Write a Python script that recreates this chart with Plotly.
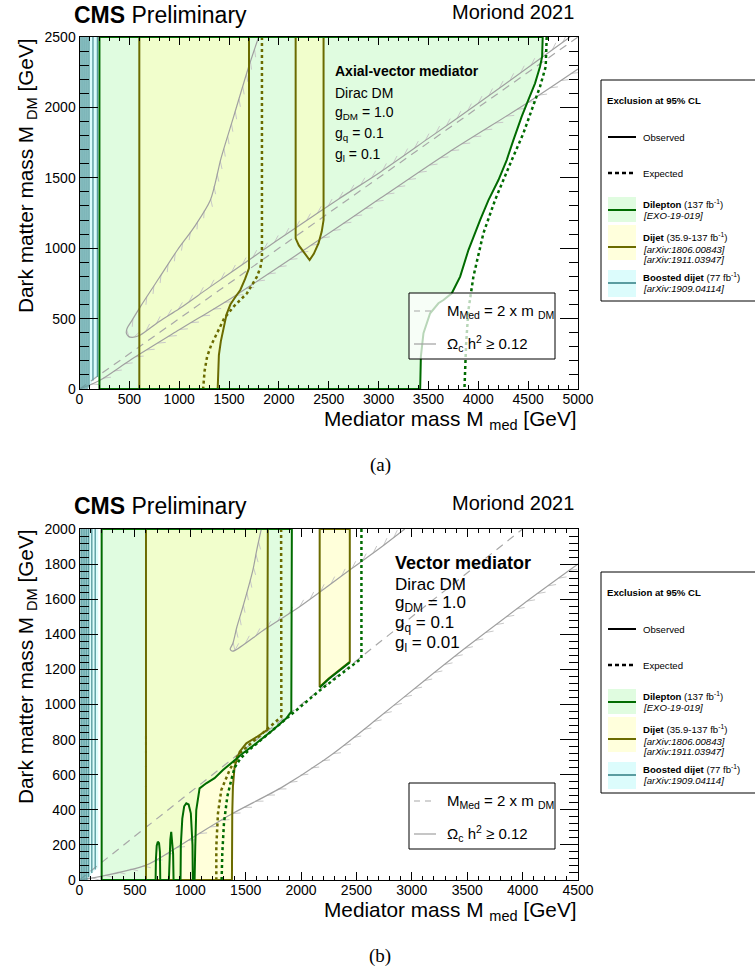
import math
import plotly.graph_objects as go

W, H = 755, 973

# ---------------- colours ----------------
C_DILEP_FILL = "#e0fce0"
C_DIJET_FILL = "rgba(255,255,188,0.55)"
C_BOOST_FILL = "#dcfcfc"
C_DILEP = "#006b00"
C_DIJET = "#6b6b00"
C_BOOST = "#5a9ca0"
C_RELIC = "#a0a0a0"
C_HATCH = "#c8c8c8"

# ================= Axial-vector mediator =================
av_dilep_obs_x = [200, 200, 4646, 4640, 4619, 4569, 4502, 4435, 4352, 4285, 4202, 4102,
                  4018, 3901, 3818, 3734, 3651, 3600, 3517, 3450, 3424, 3417, 200]
av_dilep_obs_y = [0, 2500, 2500, 2360, 2289, 2171, 2053, 1934, 1768, 1626, 1484, 1342,
                  1200, 987, 798, 680, 632, 609, 538, 396, 230, 0, 0]
av_dilep_exp_x = [4686, 4676, 4619, 4536, 4452, 4335, 4168, 4051, 3951, 3901, 3878, 3861]
av_dilep_exp_y = [2500, 2289, 2147, 1981, 1816, 1626, 1342, 1106, 798, 561, 325, 0]

av_dijet_obs1_x = [600, 600, 1700, 1700, 1660, 1613, 1560, 1513, 1475, 1446, 1418, 1398, 1389, 1386, 600]
av_dijet_obs1_y = [0, 2500, 2500, 857, 780, 703, 650, 600, 530, 443, 340, 240, 120, 0, 0]
av_dijet_obs2_x = [2168, 2168, 2200, 2240, 2308, 2350, 2398, 2430, 2448, 2448, 2168]
av_dijet_obs2_y = [2500, 1070, 1020, 980, 916, 960, 1035, 1120, 1200, 2500, 2500]
av_dijet_exp_x = [1830, 1830, 1815, 1780, 1680, 1546, 1450, 1380, 1320, 1280, 1255, 1240]
av_dijet_exp_y = [2500, 928, 865, 798, 680, 585, 500, 396, 310, 230, 130, 0]

av_boost_fill_x = [10, 10, 180, 180, 135, 95, 10]
av_boost_fill_y = [0, 2500, 2500, 85, 60, 10, 0]
av_boost_line_x = [15, 35, 55, 75, 95, 135, 180]
av_boost_line_y0 = [0, 0, 0, 0, 10, 60, 85]

av_relic_a_x = [1797, 1697, 1546, 1420, 1313, 1150, 982, 800, 611, 520, 478, 470, 490, 528,
                611, 800, 1000, 1300, 1747, 2200, 2600, 3016, 3500, 4000, 4619, 4920]
av_relic_a_y = [2500, 2289, 1934, 1640, 1342, 1150, 987, 790, 585, 480, 431, 396, 375, 367,
                384, 480, 570, 720, 940, 1160, 1350, 1540, 1780, 2030, 2345, 2500]
av_relic_b_x = [0, 200, 511, 1000, 1546, 2300, 3016, 3700, 4486, 5000]
av_relic_b_y = [0, 60, 206, 420, 656, 1010, 1354, 1680, 2029, 2272]

# ================= Vector mediator =================
v_dilep_obs_x = [200, 200, 1917, 1917, 1912, 1867, 1746, 1596, 1475, 1385, 1295, 1219, 1144,
                 1084, 1054, 1045, 1039,
                 1023, 1020, 1005, 985, 964, 945, 928, 915, 912,
                 849, 845, 836, 828, 820, 812, 807,
                 729, 726, 718, 707, 697, 690, 687, 200]
v_dilep_obs_y = [0, 2000, 2000, 978, 959, 921, 855, 779, 722, 674, 627, 580, 551,
                 522, 399, 190, 0,
                 0, 200, 380, 430, 437, 420, 350, 200, 0,
                 0, 150, 240, 275, 230, 120, 0,
                 0, 160, 210, 218, 195, 120, 0, 0]
v_dilep_exp_x = [2545, 2545, 2440, 2300, 2168, 2000, 1897, 1746, 1620, 1520, 1450, 1400,
                 1370, 1334, 1304, 1289, 1283]
v_dilep_exp_y = [2000, 1262, 1212, 1145, 1080, 990, 935, 858, 790, 735, 690, 640,
                 570, 475, 323, 152, 0]
v_dilep_obs2_x = [2168, 2250, 2350, 2440]
v_dilep_obs2_y = [1097, 1145, 1195, 1240]

v_dijet_obs1_x = [600, 600, 1700, 1695, 1600, 1506, 1445, 1400, 1385, 1379, 1376, 600]
v_dijet_obs1_y = [0, 2000, 2000, 855, 815, 779, 731, 646, 532, 380, 0, 0]
v_dijet_obs2_x = [2168, 2168, 2250, 2350, 2440, 2440, 2168]
v_dijet_obs2_y = [2000, 1100, 1148, 1198, 1244, 2000, 2000]
v_dijet_exp_x = [1820, 1822, 1686, 1566, 1445, 1400, 1355, 1280, 1250, 1235, 1235]
v_dijet_exp_y = [2000, 930, 855, 788, 722, 680, 627, 513, 380, 190, 0]

v_boost_fill_x = [10, 10, 170, 170, 130, 90, 10]
v_boost_fill_y = [0, 2000, 2000, 70, 50, 20, 0]
v_boost_line_x = [15, 32, 49, 66, 83, 111, 142]
v_boost_line_y0 = [0, 0, 0, 0, 15, 40, 60]

v_relic_a_x = [1641, 1600, 1565, 1475, 1420, 1385, 1360, 1375, 1400, 1686, 1987, 2439, 2710, 2936]
v_relic_a_y = [2000, 1880, 1766, 1557, 1440, 1349, 1315, 1305, 1307, 1434, 1557, 1766, 1890, 2000]
v_relic_b_x = [0, 181, 602, 843, 1084, 1385, 1837, 2288, 2710, 3101, 3500, 4000, 4500]
v_relic_b_y = [0, 19, 85, 171, 266, 380, 532, 720, 930, 1130, 1330, 1570, 1800]

FONT = "Liberation Sans, Arial, sans-serif"

# pixel frames of the two panels: (left, right, bottom, top)
FRAME_AV = (79.5, 578.0, 389.0, 37.0)
FRAME_V = (79.5, 578.0, 880.0, 529.0)

fig = go.Figure()


def poly(x, y, color, xa, ya):
    fig.add_trace(go.Scatter(x=x, y=y, mode="lines", fill="toself", fillcolor=color,
                             line=dict(width=0), hoverinfo="skip", showlegend=False,
                             xaxis=xa, yaxis=ya))


def line(x, y, color, width, dash, xa, ya, shape="linear"):
    fig.add_trace(go.Scatter(x=x, y=y, mode="lines",
                             line=dict(color=color, width=width, dash=dash, shape=shape,
                                       smoothing=0.8 if shape == "spline" else None),
                             hoverinfo="skip", showlegend=False, xaxis=xa, yaxis=ya))


def hatch(x, y, xmax, ymax, frame, side, xa, ya, step=13.0, length=8.0):
    """Sparse ROOT-style hatch strokes along one side of a contour."""
    l, r, b, t = frame
    sx = (r - l) / xmax
    sy = (b - t) / ymax
    pts = [(l + xi * sx, b - yi * sy) for xi, yi in zip(x, y)]
    hx, hy = [], []
    carry = 0.0
    for (x0, y0), (x1, y1) in zip(pts[:-1], pts[1:]):
        seg = math.hypot(x1 - x0, y1 - y0)
        if seg == 0:
            continue
        tx, ty = (x1 - x0) / seg, (y1 - y0) / seg
        nx, ny = (ty, -tx) if side > 0 else (-ty, tx)
        dx, dy = 0.45 * nx + 0.89 * tx, 0.45 * ny + 0.89 * ty
        d = step - carry
        while d <= seg:
            qx, qy = x0 + tx * d, y0 + ty * d
            ex, ey = qx + length * dx, qy + length * dy
            hx += [(qx - l) / sx, (ex - l) / sx, None]
            hy += [(b - qy) / sy, (b - ey) / sy, None]
            d += step
        carry = seg - (d - step)
    fig.add_trace(go.Scatter(x=hx, y=hy, mode="lines", line=dict(color=C_HATCH, width=1),
                             hoverinfo="skip", showlegend=False, xaxis=xa, yaxis=ya))


DOT = "3px,3px"


def panel(xa, ya, xmax, ymax, frame, boost_fx, boost_fy, boost_lx, boost_ly0,
          dil_obs, dil_exp, dij_obs_list, dij_exp, relics, extra_dil=None):
    # filled exclusion regions
    poly(boost_fx, boost_fy, C_BOOST_FILL, xa, ya)
    poly(dil_obs[0], dil_obs[1], C_DILEP_FILL, xa, ya)
    for ox, oy in dij_obs_list:
        poly(ox, oy, C_DIJET_FILL, xa, ya)
    # relic density (hatched) and on-shell threshold
    for (rx, ry), side in zip(relics, (+1, -1)):
        hatch(rx, ry, xmax, ymax, frame, side, xa, ya)
        line(rx, ry, C_RELIC, 1.2, "solid", xa, ya, shape="spline")
    line([0, 2 * ymax], [0, ymax], "#a8a8a8", 1.2, "8px,6px", xa, ya)
    # contours
    for ox, oy in dij_obs_list:
        line(ox, oy, C_DIJET, 2, "solid", xa, ya)
    line(dij_exp[0], dij_exp[1], C_DIJET, 2.5, DOT, xa, ya)
    line(dil_obs[0], dil_obs[1], C_DILEP, 2, "solid", xa, ya)
    if extra_dil is not None:
        line(extra_dil[0], extra_dil[1], C_DILEP, 2, "solid", xa, ya)
    line(dil_exp[0], dil_exp[1], C_DILEP, 2.5, DOT, xa, ya)
    for bx, by0 in zip(boost_lx, boost_ly0):
        line([bx, bx], [by0, ymax], C_BOOST, 1.4, "solid", xa, ya)


panel("x", "y", 5000, 2500, FRAME_AV, av_boost_fill_x, av_boost_fill_y, av_boost_line_x,
      av_boost_line_y0,
      (av_dilep_obs_x, av_dilep_obs_y), (av_dilep_exp_x, av_dilep_exp_y),
      [(av_dijet_obs1_x, av_dijet_obs1_y), (av_dijet_obs2_x, av_dijet_obs2_y)],
      (av_dijet_exp_x, av_dijet_exp_y),
      [(av_relic_a_x, av_relic_a_y), (av_relic_b_x, av_relic_b_y)])

panel("x2", "y2", 4500, 2000, FRAME_V, v_boost_fill_x, v_boost_fill_y, v_boost_line_x,
      v_boost_line_y0,
      (v_dilep_obs_x, v_dilep_obs_y), (v_dilep_exp_x, v_dilep_exp_y),
      [(v_dijet_obs1_x, v_dijet_obs1_y), (v_dijet_obs2_x, v_dijet_obs2_y)],
      (v_dijet_exp_x, v_dijet_exp_y),
      [(v_relic_a_x, v_relic_a_y), (v_relic_b_x, v_relic_b_y)],
      extra_dil=(v_dilep_obs2_x, v_dilep_obs2_y))


def px(xp):
    return xp / W


def py(yp):
    return 1 - yp / H


def xaxis(rng, dom, anchor):
    return dict(range=rng, domain=dom, anchor=anchor, showgrid=False, zeroline=False,
                automargin=False, ticklabelstandoff=-3,
                showline=True, linecolor="black", linewidth=1, mirror="allticks",
                ticks="inside", ticklen=8, tickcolor="black", dtick=500, tick0=0,
                tickfont=dict(family=FONT, size=14, color="black"),
                minor=dict(ticks="inside", ticklen=4, dtick=100, tickcolor="black", showgrid=False))


def yaxis(rng, dom, anchor, dt, mdt):
    return dict(range=rng, domain=dom, anchor=anchor, showgrid=False, zeroline=False,
                automargin=False,
                showline=True, linecolor="black", linewidth=1, mirror="allticks",
                ticks="inside", ticklen=18, tickcolor="black", dtick=dt, tick0=0,
                tickfont=dict(family=FONT, size=14, color="black"),
                minor=dict(ticks="inside", ticklen=9, dtick=mdt, tickcolor="black", showgrid=False))


XD = [px(FRAME_AV[0]), px(FRAME_AV[1])]
fig.update_layout(
    width=W, height=H, margin=dict(l=0, r=0, t=0, b=0, pad=0), autosize=False,
    paper_bgcolor="white", plot_bgcolor="white",
    xaxis=xaxis([0, 5000], XD, "y"),
    yaxis=yaxis([0, 2500], [py(FRAME_AV[2]), py(FRAME_AV[3])], "x", 500, 100),
    xaxis2=xaxis([0, 4500], XD, "y2"),
    yaxis2=yaxis([0, 2000], [py(FRAME_V[2]), py(FRAME_V[3])], "x2", 200, 40),
)

ann = []
shapes = []


def text(x, y, s, size, xanchor="left", font=FONT, angle=0, yanchor="middle"):
    ann.append(dict(x=px(x), y=py(y), xref="paper", yref="paper", text=s, showarrow=False,
                    xanchor=xanchor, yanchor=yanchor, textangle=angle,
                    font=dict(family=font, size=size, color="black")))


def pline(x0, x1, y, color, width, dash="solid"):
    shapes.append(dict(type="line", xref="paper", yref="paper", x0=px(x0), x1=px(x1),
                       y0=py(y), y1=py(y), line=dict(color=color, width=width, dash=dash),
                       layer="above"))


def prect(x0, y0, x1, y1, fill, border=None):
    shapes.append(dict(type="rect", xref="paper", yref="paper", x0=px(x0), x1=px(x1),
                       y0=py(y1), y1=py(y0), fillcolor=fill,
                       line=dict(color=border or "rgba(0,0,0,0)", width=1 if border else 0),
                       layer="above"))


def headers(dy, label):
    text(72, 15 + dy, "<b>CMS</b> Preliminary", 23)
    text(576, 12 + dy, "Moriond 2021", 20, xanchor="right")
    text(579, 420 + dy, "Mediator mass M <sub>med</sub> [GeV]", 20.8, xanchor="right")
    text(27, 176 + dy, "Dark matter mass M <sub>DM</sub> [GeV]", 20.8, xanchor="center",
         angle=-90, yanchor="middle")
    text(380, 465 + dy, label, 19, xanchor="center", font="Liberation Serif, DejaVu Serif, serif")


def inner_legend(y0):
    prect(409, y0, 555, y0 + 66, "rgba(255,255,255,0.72)", "black")
    pline(414, 436, y0 + 18, "#a8a8a8", 1.2, "6px,5px")
    text(445, y0 + 18, "M<sub>Med</sub> = 2 x m <sub>DM</sub>", 15)
    pline(414, 436, y0 + 51, C_RELIC, 1.2)
    text(445, y0 + 50, "Ω<sub>c</sub> h<sup>2</sup> ≥ 0.12", 15)


def side_legend(dy):
    prect(601, 80 + dy, 757, 301 + dy, "white", "black")
    text(605, 100 + dy, "<b>Exclusion at 95% CL</b>", 9.6)
    pline(608, 636, 137 + dy, "black", 2)
    text(641, 137 + dy, "Observed", 9.6)
    pline(608, 636, 173 + dy, "black", 2.5, "4px,3px")
    text(641, 173 + dy, "Expected", 9.6)
    prect(608, 197 + dy, 636, 222 + dy, C_DILEP_FILL)
    pline(608, 636, 210 + dy, C_DILEP, 2)
    text(641, 204 + dy, "<b>Dilepton</b> (137 fb<sup>-1</sup>)", 9.6)
    text(641, 215 + dy, "<i>[EXO-19-019]</i>", 9.6)
    prect(608, 225 + dy, 636, 260 + dy, "#ffffdc")
    pline(608, 636, 247 + dy, C_DIJET, 2)
    text(641, 237 + dy, "<b>Dijet</b> (35.9-137 fb<sup>-1</sup>)", 9.6)
    text(641, 249 + dy, "<i>[arXiv:1806.00843]</i>", 9.6)
    text(641, 259 + dy, "<i>[arXiv:1911.03947]</i>", 9.6)
    prect(608, 270 + dy, 636, 297 + dy, C_BOOST_FILL)
    pline(608, 636, 283 + dy, C_BOOST, 2)
    text(641, 277 + dy, "<b>Boosted dijet</b> (77 fb<sup>-1</sup>)", 9.6)
    text(641, 288 + dy, "<i>[arXiv:1909.04114]</i>", 9.6)


# upper panel
headers(0, "(a)")
text(333, 71, "<b>Axial-vector mediator</b>", 14)
text(333, 93, "Dirac DM", 14)
text(333, 113, "g<sub>DM</sub> = 1.0", 14)
text(333, 134, "g<sub>q</sub> = 0.1", 14)
text(333, 155, "g<sub>l</sub> = 0.1", 14)
inner_legend(293)
side_legend(0)

# lower panel
headers(491, "(b)")
text(393, 563, "<b>Vector mediator</b>", 18)
text(393, 584, "Dirac DM", 17)
text(393, 604, "g<sub>DM</sub> = 1.0", 17)
text(393, 624, "g<sub>q</sub> = 0.1", 17)
text(393, 644, "g<sub>l</sub> = 0.01", 17)
inner_legend(783)
side_legend(492)

fig.update_layout(annotations=ann, shapes=shapes)
fig.write_html("out.html")
